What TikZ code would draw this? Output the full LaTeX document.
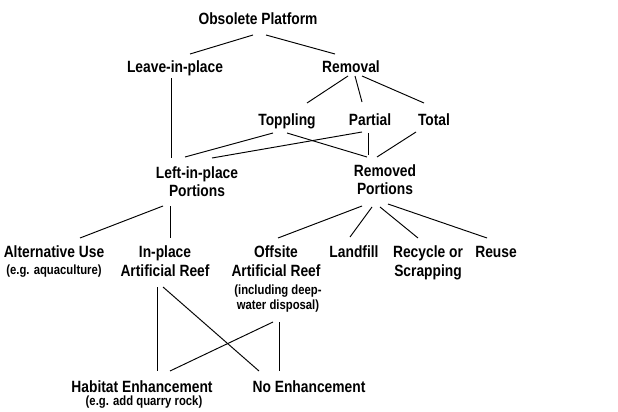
\documentclass[tikz,border=0pt]{standalone}
\usepackage{fontspec}
\usepackage{graphicx}
\setmainfont{Liberation Sans}
\newcommand\tallt[1]{\scalebox{1}[1.18]{#1}}
\begin{document}
\begin{tikzpicture}[x=1pt,y=-1pt,
  lbl/.style={font=\bfseries\fontsize{13.8}{16}\selectfont, inner sep=0pt, anchor=base},
  note/.style={font=\bfseries\fontsize{11.3}{13}\selectfont, inner sep=0pt, anchor=base},
  conn/.style={line width=0.95pt, black}]
\useasboundingbox (0,0) rectangle (618,412);
% text nodes
\node[lbl] (ob)  at (258,25)  {\tallt{Obsolete Platform}};
\node[lbl] (lv)  at (175,72)  {\tallt{Leave-in-place}};
\node[lbl] (rem) at (351,72)  {\tallt{Removal}};
\node[lbl] (top) at (287,125) {\tallt{Toppling}};
\node[lbl] (par) at (370,125) {\tallt{Partial}};
\node[lbl] (tot) at (434,125) {\tallt{Total}};
\node[lbl] (lip) at (197,178) {\tallt{Left-in-place}};
\node[lbl] (lip2) at (197,196) {\tallt{Portions}};
\node[lbl] (rmp) at (385,176) {\tallt{Removed}};
\node[lbl] (rmp2) at (385,194) {\tallt{Portions}};
\node[lbl] (alt) at (54,257)  {\tallt{Alternative Use}};
\node[note] (altn) at (54,274) {\tallt{(e.g. aquaculture)}};
\node[lbl] (inp) at (165,257) {\tallt{In-place}};
\node[lbl] (inp2) at (165,276) {\tallt{Artificial Reef}};
\node[lbl] (off) at (276,257) {\tallt{Offsite}};
\node[lbl] (off2) at (276,276) {\tallt{Artificial Reef}};
\node[note] (offn) at (278,294) {\tallt{(including deep-}};
\node[note] (offn2) at (278,309) {\tallt{water disposal)}};
\node[lbl] (land) at (354,257) {\tallt{Landfill}};
\node[lbl] (rec) at (428,257) {\tallt{Recycle or}};
\node[lbl] (rec2) at (428,276) {\tallt{Scrapping}};
\node[lbl] (reuse) at (496,257) {\tallt{Reuse}};
\node[lbl] (hab) at (142,392) {\tallt{Habitat Enhancement}};
\node[note] (habn) at (144,405) {\tallt{(e.g. add quarry rock)}};
\node[lbl] (noe) at (309,392) {\tallt{No Enhancement}};
% connector end points
\coordinate (obL) at (253,35);  \coordinate (lvN) at (190,54);
\coordinate (obR) at (266,35);  \coordinate (remN) at (335,54);
\coordinate (lvS) at (171,78);  \coordinate (lipN1) at (171,158);
\coordinate (remS1) at (348,76); \coordinate (topN) at (307,103);
\coordinate (remS2) at (355,76); \coordinate (parN) at (362,102);
\coordinate (remS3) at (362,76); \coordinate (totN) at (424,103);
\coordinate (topS1) at (273,133); \coordinate (lipN2) at (185,157);
\coordinate (topS2) at (287,133); \coordinate (rmpN1) at (367,157);
\coordinate (parS1) at (362,132); \coordinate (lipN3) at (212,158);
\coordinate (parS2) at (368,133); \coordinate (rmpN2) at (368,155);
\coordinate (totS) at (416,132);  \coordinate (rmpN3) at (377,157);
\coordinate (lipS1) at (163,206); \coordinate (altN) at (80,238);
\coordinate (lipS2) at (170,206); \coordinate (inpN) at (170,238);
\coordinate (rmpS1) at (362,206); \coordinate (offN) at (278,238);
\coordinate (rmpS2) at (372,207); \coordinate (landN) at (350,237);
\coordinate (rmpS3) at (380,207); \coordinate (recN) at (418,238);
\coordinate (rmpS4) at (388,204); \coordinate (reuseN) at (487,238);
\coordinate (inpS1) at (157,287); \coordinate (habN1) at (157,371);
\coordinate (inpS2) at (163,287); \coordinate (noeN1) at (259,371);
\coordinate (offS1) at (273,322); \coordinate (habN2) at (170,371);
\coordinate (offS2) at (279,322); \coordinate (noeN2) at (279,371);
% connectors
\draw[conn] (obL) -- (lvN);
\draw[conn] (obR) -- (remN);
\draw[conn] (lvS) -- (lipN1);
\draw[conn] (remS1) -- (topN);
\draw[conn] (remS2) -- (parN);
\draw[conn] (remS3) -- (totN);
\draw[conn] (topS1) -- (lipN2);
\draw[conn] (topS2) -- (rmpN1);
\draw[conn] (parS1) -- (lipN3);
\draw[conn] (parS2) -- (rmpN2);
\draw[conn] (totS) -- (rmpN3);
\draw[conn] (lipS1) -- (altN);
\draw[conn] (lipS2) -- (inpN);
\draw[conn] (rmpS1) -- (offN);
\draw[conn] (rmpS2) -- (landN);
\draw[conn] (rmpS3) -- (recN);
\draw[conn] (rmpS4) -- (reuseN);
\draw[conn] (inpS1) -- (habN1);
\draw[conn] (inpS2) -- (noeN1);
\draw[conn] (offS1) -- (habN2);
\draw[conn] (offS2) -- (noeN2);
\end{tikzpicture}
\end{document}
